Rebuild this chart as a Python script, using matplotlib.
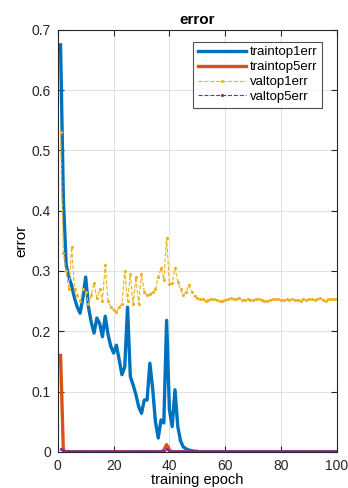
import numpy as np
import matplotlib
matplotlib.use("Agg")
import matplotlib.pyplot as plt

plt.rcParams['font.family'] = ['Liberation Sans', 'DejaVu Sans']

epochs = list(range(1, 101))

# training top-1 error
train_top1 = [
    0.675, 0.420, 0.310, 0.290, 0.275, 0.255, 0.240, 0.230, 0.255, 0.290,
    0.240, 0.215, 0.197, 0.222, 0.213, 0.191, 0.225, 0.195, 0.175, 0.164,
    0.177, 0.153, 0.128, 0.141, 0.240, 0.125, 0.111, 0.095, 0.075, 0.064,
    0.086, 0.086, 0.147, 0.105, 0.050, 0.023, 0.053, 0.048, 0.218, 0.070,
    0.042, 0.103, 0.042, 0.018, 0.008, 0.005, 0.003, 0.002, 0.001, 0.001,
] + [0.0] * 50

# training top-5 error
train_top5 = [0.160, 0.002] + [0.0] * 35 + [0.003, 0.012, 0.003] + [0.0] * 60

# validation top-1 error
val_top1 = [
    0.530, 0.330, 0.300, 0.270, 0.340, 0.270, 0.260, 0.250, 0.270, 0.265,
    0.245, 0.260, 0.280, 0.255, 0.270, 0.250, 0.310, 0.250, 0.240, 0.235,
    0.232, 0.240, 0.245, 0.300, 0.250, 0.295, 0.245, 0.290, 0.245, 0.295,
    0.265, 0.260, 0.262, 0.265, 0.270, 0.290, 0.305, 0.285, 0.355, 0.278,
    0.280, 0.305, 0.282, 0.270, 0.260, 0.265, 0.277, 0.265, 0.258, 0.255,
    0.253, 0.254, 0.251, 0.252, 0.254, 0.253, 0.252, 0.250, 0.251, 0.252,
    0.253, 0.255, 0.253, 0.254, 0.256, 0.252, 0.252, 0.253, 0.252, 0.252,
    0.253, 0.254, 0.252, 0.251, 0.250, 0.252, 0.253, 0.254, 0.253, 0.252,
    0.252, 0.253, 0.252, 0.253, 0.252, 0.252, 0.251, 0.253, 0.252, 0.254,
    0.253, 0.252, 0.254, 0.255, 0.252, 0.251, 0.253, 0.254, 0.253, 0.253,
]

# validation top-5 error
val_top5 = [0.005, 0.003, 0.002, 0.002, 0.002, 0.001, 0.002, 0.001, 0.002, 0.001] \
    + [0.001] * 27 + [0.002, 0.005, 0.002] + [0.001] * 60

fig = plt.figure(figsize=(3.48, 4.88), dpi=100)
ax = fig.add_axes([0.166, 0.074, 0.802, 0.865])

ax.plot(epochs, train_top1, color="#0072BD", lw=2.4, label="traintop1err")
ax.plot(epochs, train_top5, color="#D95319", lw=2.4, label="traintop5err")
ax.plot(epochs, val_top1, color="#EDB120", lw=0.8, ls="--", marker=".",
        markersize=2.5, label="valtop1err")
ax.plot(epochs, val_top5, color="#7E2F8E", lw=0.8, ls="--", marker=".",
        markersize=2.5, label="valtop5err")

ax.set_xlim(0, 100)
ax.set_ylim(0, 0.7)
ax.set_xticks(range(0, 101, 20))
ax.set_yticks(np.arange(0, 0.71, 0.1))
ax.set_yticklabels(["0", "0.1", "0.2", "0.3", "0.4", "0.5", "0.6", "0.7"])
ax.tick_params(direction="in", top=True, right=True, length=4, width=0.8,
               labelsize=10, colors="#262626", pad=5)
ax.grid(True, color="#dcdcdc", lw=0.6)
for s in ax.spines.values():
    s.set_color("#262626")
    s.set_linewidth(0.8)

ax.set_title("error", fontsize=11, fontweight="bold", pad=4)
ax.set_xlabel("training epoch", fontsize=10.5, labelpad=0)
ax.set_ylabel("error", fontsize=11, labelpad=2)

leg = ax.legend(loc="upper right", bbox_to_anchor=(0.946, 0.972),
                borderaxespad=0, fontsize=9.5, frameon=True, fancybox=False,
                handlelength=3.6, handletextpad=0.3, labelspacing=0.2,
                borderpad=0.35)
leg.get_frame().set_edgecolor("#262626")
leg.get_frame().set_linewidth(0.8)

fig.savefig("out.png", dpi=100)
